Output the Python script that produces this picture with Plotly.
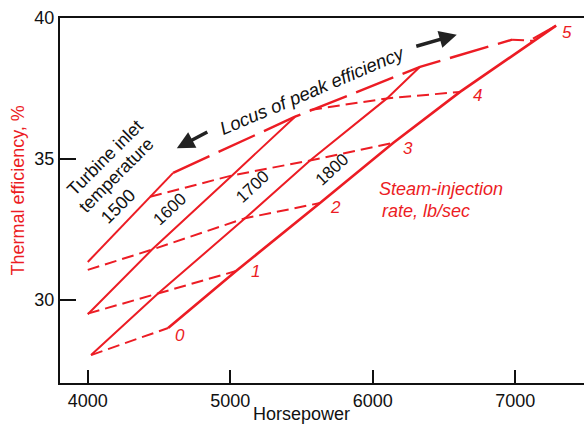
import plotly.graph_objects as go

RED = "#ec1c24"
FONT = "Liberation Sans, Arial, Helvetica, sans-serif"

# Constant turbine-inlet-temperature lines (solid)
hp_1500 = [4000, 4437, 4599]
eff_1500 = [31.35, 33.66, 34.51]
hp_1600 = [4000, 4451, 5013, 5455]
eff_1600 = [29.50, 31.79, 34.42, 36.50]
hp_1700 = [4023, 4493, 5104, 5560, 6100, 6332]
eff_1700 = [28.05, 30.23, 32.90, 34.95, 37.15, 38.27]
hp_1800 = [4564, 5041, 5630, 6143, 6613, 7287]
eff_1800 = [29.01, 31.03, 33.44, 35.57, 37.38, 39.73]

# Constant steam-injection-rate lines (dashed), lb/sec
hp_r0 = [4023, 4564]
eff_r0 = [28.05, 29.01]
hp_r1 = [4000, 4493, 5041]
eff_r1 = [29.52, 30.23, 31.03]
hp_r2 = [4000, 4451, 5104, 5630]
eff_r2 = [31.07, 31.79, 32.90, 33.44]
hp_r3 = [4437, 5013, 5560, 6143]
eff_r3 = [33.66, 34.42, 34.95, 35.57]
hp_r4 = [5560, 6100, 6613]
eff_r4 = [36.74, 37.15, 37.38]
hp_r5 = [6978, 7125]
eff_r5 = [39.23, 39.19]

# Locus of peak efficiency
hp_locus = [4599, 5455, 6332, 6978]
eff_locus = [34.51, 36.50, 38.27, 39.23]
hp_locus_end = [7125, 7287]
eff_locus_end = [39.27, 39.73]

rate_labels = ["0", "1", "2", "3", "4", "5"]
rate_label_hp = [4648, 5175, 5742, 6248, 6732, 7364]
rate_label_eff = [28.76, 31.03, 33.27, 35.36, 37.24, 39.48]

temp_labels = ["1600", "1700", "1800"]
temp_label_hp = [4574, 5160, 5715]
temp_label_eff = [33.21, 34.01, 34.63]

x_ticks = [4000, 5000, 6000, 7000]
y_ticks = [30, 35, 40]

fig = go.Figure()

def add_line(x, y, dash="solid", width=2.0):
    fig.add_trace(go.Scatter(x=x, y=y, mode="lines",
                             line=dict(color=RED, width=width, dash=dash),
                             hoverinfo="skip", showlegend=False))

for x, y in [(hp_1500, eff_1500), (hp_1600, eff_1600), (hp_1700, eff_1700)]:
    add_line(x, y, "solid", 2.0)
add_line(hp_1800, eff_1800, "solid", 2.6)

for x, y in [(hp_r0, eff_r0), (hp_r1, eff_r1), (hp_r2, eff_r2),
             (hp_r3, eff_r3), (hp_r4, eff_r4), (hp_r5, eff_r5)]:
    add_line(x, y, "12px,6px", 2.0)

add_line(hp_locus, eff_locus, "40px,10px", 2.4)
add_line(hp_locus_end, eff_locus_end, "solid", 2.0)

C = dict(xanchor="center", yanchor="middle")
ann = []
for t, x, y in zip(rate_labels, rate_label_hp, rate_label_eff):
    ann.append(dict(x=x, y=y, text="<i>%s</i>" % t, showarrow=False, **C,
                    font=dict(family=FONT, size=17, color=RED)))
for t, x, y in zip(temp_labels, temp_label_hp, temp_label_eff):
    ann.append(dict(x=x, y=y, text=t, showarrow=False, textangle=-43, **C,
                    font=dict(family=FONT, size=17, color="#111")))

for t, x, y in [("Turbine inlet", 4120, 35.03), ("temperature", 4202, 34.42),
                ("1500", 4215, 33.34)]:
    ann.append(dict(x=x, y=y, text=t, showarrow=False, textangle=-45, **C,
                    font=dict(family=FONT, size=18, color="#111")))

ann.append(dict(x=5575, y=37.42, text="<i>Locus of peak efficiency</i>",
                showarrow=False, textangle=-23, **C,
                font=dict(family=FONT, size=18.5, color="#111")))
ann.append(dict(x=6031, y=33.94, text="<i>Steam-injection</i>", showarrow=False,
                xanchor="left", yanchor="middle",
                font=dict(family=FONT, size=18, color=RED)))
ann.append(dict(x=6052, y=33.16, text="<i>rate, lb/sec</i>", showarrow=False,
                xanchor="left", yanchor="middle",
                font=dict(family=FONT, size=18, color=RED)))

# arrows along the locus text
ann.append(dict(x=4625, y=35.385, ax=32, ay=-17, axref="pixel", ayref="pixel",
                text="", showarrow=True, arrowhead=2, arrowsize=1.0,
                arrowwidth=3.5, arrowcolor="#222"))
ann.append(dict(x=6590, y=39.41, ax=-42, ay=12, axref="pixel", ayref="pixel",
                text="", showarrow=True, arrowhead=2, arrowsize=1.0,
                arrowwidth=3.5, arrowcolor="#222"))

# axis titles
ann.append(dict(xref="paper", yref="paper", x=-0.081, y=0.526, **C,
                text="Thermal efficiency, %", textangle=-90, showarrow=False,
                font=dict(family=FONT, size=18, color=RED)))
ann.append(dict(xref="paper", yref="paper", x=0.46, y=-0.086, **C,
                text="Horsepower", showarrow=False,
                font=dict(family=FONT, size=18, color="#111")))

fig.update_layout(
    width=584, height=427,
    margin=dict(l=60, r=0, t=18, b=44),
    paper_bgcolor="white", plot_bgcolor="white",
    annotations=ann,
    xaxis=dict(range=[3805, 7483], tickvals=x_ticks, ticktext=[str(v) for v in x_ticks],
               ticks="inside", ticklen=13, tickwidth=2, tickcolor="#111",
               showline=True, linecolor="#111", linewidth=2, mirror=True,
               showgrid=False, zeroline=False,
               tickfont=dict(family=FONT, size=18, color="#111")),
    yaxis=dict(range=[27.06, 40], tickvals=y_ticks, ticktext=[str(v) for v in y_ticks],
               ticks="inside", ticklen=16, tickwidth=2, tickcolor="#111",
               showline=True, linecolor="#111", linewidth=2,
               showgrid=False, zeroline=False,
               tickfont=dict(family=FONT, size=18, color="#111")),
)

fig.write_html("out.html", config={"displayModeBar": False},
               post_script="document.body.style.margin='0';")
